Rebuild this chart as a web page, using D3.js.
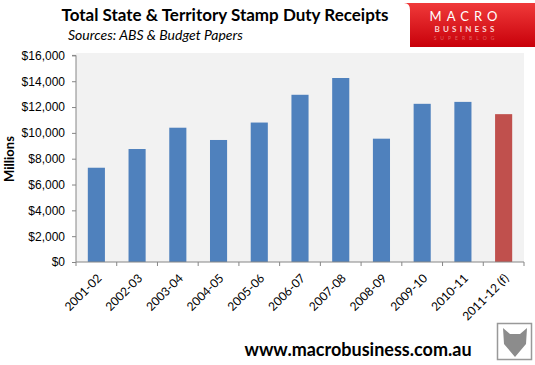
<!DOCTYPE html>
<html>
<head>
<script src="https://d3js.org/d3.v7.min.js"></script>
<style>
  body { margin: 0; background: #fff; }
  svg { display: block; font-family: Lato, "Open Sans", sans-serif; }
</style>
</head>
<body>
<div id="chart"></div>
<script>
// data
const years = ["2001-02", "2002-03", "2003-04", "2004-05", "2005-06", "2006-07",
               "2007-08", "2008-09", "2009-10", "2010-11", "2011-12 (f)"];
const receipts = [7300, 8750, 10400, 9450, 10800, 12950, 14250, 9550, 12250, 12400, 11450];
const forecast = [false, false, false, false, false, false, false, false, false, false, true];
const yTicks = [0, 2000, 4000, 6000, 8000, 10000, 12000, 14000, 16000];

const width = 535, height = 365;
const margin = {left: 76, right: 11, top: 53, bottom: 103};

const svg = d3.select("#chart").append("svg")
    .attr("width", width)
    .attr("height", height);

const x = d3.scaleBand()
    .domain(years)
    .range([margin.left, width - margin.right])
    .paddingInner(0.58)
    .paddingOuter(0.29);

const y = d3.scaleLinear()
    .domain([0, 16000])
    .range([height - margin.bottom, 55.4]);

// plot background
svg.append("rect")
    .attr("x", margin.left)
    .attr("y", margin.top)
    .attr("width", width - margin.right - margin.left)
    .attr("height", height - margin.bottom - margin.top)
    .attr("fill", "#f2f2f2");

// bars
svg.selectAll(".bar")
    .data(years)
    .enter().append("rect")
    .attr("class", "bar")
    .attr("x", d => x(d))
    .attr("width", x.bandwidth())
    .attr("y", (d, i) => y(receipts[i]))
    .attr("height", (d, i) => y(0) - y(receipts[i]))
    .attr("fill", (d, i) => forecast[i] ? "#c0504d" : "#4f81bd");

// y axis
const yAxis = svg.append("g")
    .attr("transform", `translate(${margin.left},0)`)
    .call(d3.axisLeft(y).tickValues(yTicks).tickSize(4).tickPadding(7)
        .tickFormat(d => "$" + d3.format(",")(d)));
yAxis.select(".domain").attr("stroke", "#868686").attr("d", `M-4,${y(16000)}H0V${y(0)}`);
yAxis.selectAll(".tick line").attr("stroke", "#868686");
yAxis.selectAll(".tick text").attr("font-size", 12).attr("fill", "#000");

// x axis: ticks at category boundaries
const xAxisG = svg.append("g")
    .attr("transform", `translate(0,${y(0)})`);
xAxisG.append("line")
    .attr("x1", margin.left).attr("x2", width - margin.right)
    .attr("stroke", "#868686");
const bounds = d3.range(years.length + 1).map(i => margin.left + i * (width - margin.right - margin.left) / years.length);
xAxisG.selectAll(".xt")
    .data(bounds)
    .enter().append("line")
    .attr("x1", d => d).attr("x2", d => d)
    .attr("y1", 0).attr("y2", 4)
    .attr("stroke", "#868686");
xAxisG.selectAll(".xl")
    .data(years)
    .enter().append("text")
    .attr("transform", d => `translate(${x(d) + x.bandwidth() / 2 + 6},17) rotate(-45)`)
    .attr("text-anchor", "end")
    .attr("font-size", 12)
    .text(d => d);

// y axis title
svg.append("text")
    .attr("transform", `translate(14,159) rotate(-90)`)
    .attr("text-anchor", "middle")
    .attr("font-size", 13)
    .attr("font-weight", "bold")
    .text("Millions");

// titles
svg.append("text")
    .attr("x", 225).attr("y", 21)
    .attr("text-anchor", "middle")
    .attr("font-size", 17)
    .attr("font-weight", "bold")
    .text("Total State & Territory Stamp Duty Receipts");
svg.append("text")
    .attr("x", 68).attr("y", 40)
    .attr("font-size", 14)
    .attr("font-style", "italic")
    .text("Sources: ABS & Budget Papers");

// logo box
const defs = svg.append("defs");
const grad = defs.append("linearGradient").attr("id", "logoGrad")
    .attr("x1", 0).attr("y1", 0).attr("x2", 0).attr("y2", 1);
grad.append("stop").attr("offset", "0%").attr("stop-color", "#f03a3a");
grad.append("stop").attr("offset", "100%").attr("stop-color", "#c8000a");
svg.append("path")
    .attr("d", "M404,3 Q410,3 410,10 L410,47 L535,47 L535,3 Z")
    .attr("fill", "url(#logoGrad)");
svg.append("text")
    .attr("x", 466).attr("y", 21)
    .attr("text-anchor", "middle")
    .attr("font-size", 13)
    .attr("letter-spacing", 5)
    .attr("fill", "#fff")
    .text("MACRO");
svg.append("text")
    .attr("x", 466).attr("y", 32)
    .attr("text-anchor", "middle")
    .attr("font-size", 8)
    .attr("font-weight", "bold")
    .attr("letter-spacing", 3.2)
    .attr("fill", "#fbd6d6")
    .text("BUSINESS");
svg.append("text")
    .attr("x", 466).attr("y", 40)
    .attr("text-anchor", "middle")
    .attr("font-size", 5)
    .attr("letter-spacing", 4)
    .attr("fill", "#e06060")
    .text("SUPERBLOG");

// footer
svg.append("text")
    .attr("x", 358).attr("y", 356)
    .attr("text-anchor", "middle")
    .attr("font-size", 18)
    .attr("font-weight", "bold")
    .text("www.macrobusiness.com.au");

// wolf badge placeholder
svg.append("rect")
    .attr("x", 497.5).attr("y", 323.5)
    .attr("width", 34).attr("height", 36)
    .attr("fill", "#fff")
    .attr("stroke", "#999")
    .attr("stroke-width", 1.5);
svg.append("path")
    .attr("d", "M503,328 L510,334 L520,334 L527,328 L526,344 L515,357 L504,344 Z")
    .attr("fill", "#8c8c8c");
</script>
</body>
</html>
